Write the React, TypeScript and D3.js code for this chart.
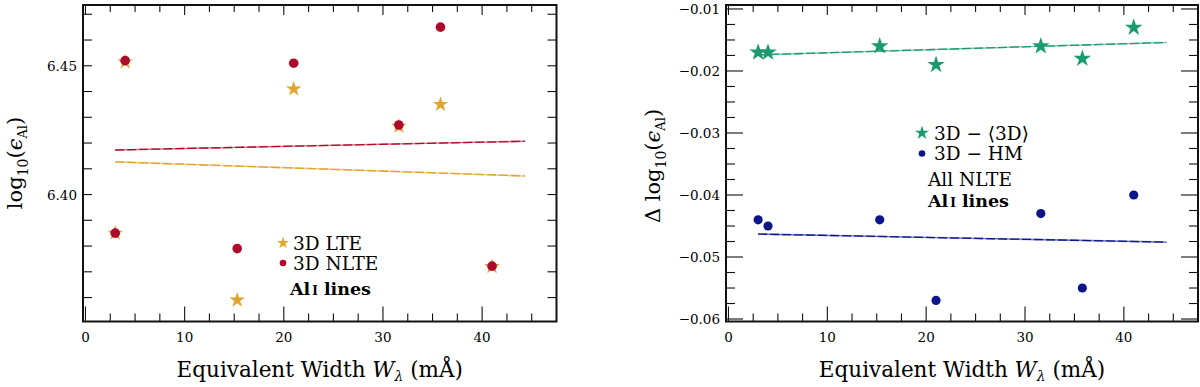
import React, { useEffect, useRef } from 'react';
import * as d3 from 'd3';

// equivalent widths of the Al I lines (mÅ)
const eqWidth = [3.0, 4.0, 15.3, 21.0, 31.6, 35.8, 41.0];

// left panel: absolute abundances
const lte3d = [6.385, 6.4515, 6.359, 6.441, 6.4265, 6.435, 6.372];
const nlte3d = [6.385, 6.452, 6.379, 6.451, 6.427, 6.465, 6.3722];

// right panel: abundance differences (all NLTE)
const diff3dMean = [-0.017, -0.017, -0.016, -0.019, -0.016, -0.018, -0.013];
const diff3dHM = [-0.044, -0.045, -0.044, -0.057, -0.043, -0.055, -0.040];

const fitX = [3.0, 44.3];
const fitLte = [6.4127, 6.4072];
const fitNlte = [6.4173, 6.4207];
const fitMean = [-0.0174, -0.0154];
const fitHM = [-0.0463, -0.0476];

const FONT = '"DejaVu Serif", "Liberation Serif", serif';
const GOLD = '#e2a42a';
const RED = '#ad0a2c';
const GREEN = '#1b9a6f';
const NAVY = '#0b168a';

const W = 1200;
const H = 387;

type Panel = {
  x0: number; x1: number; y0: number; y1: number;
  yDomain: [number, number];
  yMajor: number[]; yMinor: number[];
  yMajorLen: number; yMinorLen: number;
  yFmt: (v: number) => string;
};

const App = () => {
  const ref = useRef<SVGSVGElement>(null);

  useEffect(() => {
    const svg = d3.select(ref.current);
    svg.selectAll('*').remove();
    svg.append('rect').attr('width', W).attr('height', H).attr('fill', 'white');

    const xDomain: [number, number] = [-0.25, 47.5];
    const xMajor = d3.range(0, 41, 10);
    const xMinor = d3.range(0, 47.5, 2.5).filter(v => v % 10 !== 0);

    const drawFrame = (p: Panel) => {
      const x = d3.scaleLinear().domain(xDomain).range([p.x0, p.x1]);
      const y = d3.scaleLinear().domain(p.yDomain).range([p.y1, p.y0]);
      const g = svg.append('g');
      const tick = (x1: number, y1: number, x2: number, y2: number) =>
        g.append('line').attr('x1', x1).attr('y1', y1).attr('x2', x2).attr('y2', y2)
          .attr('stroke', '#111').attr('stroke-width', 1.1);

      xMajor.forEach(v => { tick(x(v), p.y1, x(v), p.y1 - 15); tick(x(v), p.y0, x(v), p.y0 + 10); });
      xMinor.forEach(v => { tick(x(v), p.y1, x(v), p.y1 - 8); tick(x(v), p.y0, x(v), p.y0 + 7); });
      p.yMajor.forEach(v => { tick(p.x0, y(v), p.x0 + p.yMajorLen, y(v)); tick(p.x1, y(v), p.x1 - p.yMajorLen, y(v)); });
      p.yMinor.forEach(v => { tick(p.x0, y(v), p.x0 + p.yMinorLen, y(v)); tick(p.x1, y(v), p.x1 - p.yMinorLen, y(v)); });

      g.append('rect').attr('x', p.x0).attr('y', p.y0)
        .attr('width', p.x1 - p.x0).attr('height', p.y1 - p.y0)
        .attr('fill', 'none').attr('stroke', '#111').attr('stroke-width', 2);

      g.selectAll('.xl').data(xMajor).enter().append('text')
        .attr('x', d => x(d)).attr('y', p.y1 + 20)
        .attr('text-anchor', 'middle').attr('font-family', FONT).attr('font-size', 13.5)
        .text(d => String(d));

      g.selectAll('.yl').data(p.yMajor.filter(v => p.yFmt(v) !== '')).enter().append('text')
        .attr('x', p.x0 - 6).attr('y', d => y(d) + 5)
        .attr('text-anchor', 'end').attr('font-family', FONT).attr('font-size', 13.5)
        .text(d => p.yFmt(d));

      const t = g.append('text').attr('x', (p.x0 + p.x1) / 2).attr('y', 377)
        .attr('text-anchor', 'middle').attr('font-family', FONT).attr('font-size', 21.5);
      t.append('tspan').text('Equivalent Width ');
      t.append('tspan').attr('font-style', 'italic').text('W');
      t.append('tspan').attr('font-size', 14).attr('dy', 4).attr('font-style', 'italic').text('λ');
      t.append('tspan').attr('dy', -4).text(' (mÅ)');
      return { x, y, g };
    };

    const yLabel = (cx: number, cy: number, prefix: string) => {
      const t = svg.append('text')
        .attr('transform', `translate(${cx},${cy}) rotate(-90)`)
        .attr('text-anchor', 'middle').attr('font-family', FONT).attr('font-size', 21);
      t.append('tspan').text(prefix + 'log');
      t.append('tspan').attr('font-size', 14).attr('dy', 6).text('10');
      t.append('tspan').attr('dy', -6).text('(');
      t.append('tspan').attr('font-style', 'italic').text('ϵ');
      t.append('tspan').attr('font-size', 13).attr('dy', 5).text('Al');
      t.append('tspan').attr('dy', -5).text(')');
    };

    const star = d3.symbol().type(d3.symbolStar);
    const drawStars = (g: any, x: any, y: any, vals: number[], color: string, size: number) => {
      g.selectAll(null).data(vals).enter().append('path')
        .attr('d', star.size(size)())
        .attr('transform', (d: number, i: number) => `translate(${x(eqWidth[i])},${y(d)})`)
        .attr('fill', color);
    };
    const drawDots = (g: any, x: any, y: any, vals: number[], color: string, r: number) => {
      g.selectAll(null).data(vals).enter().append('circle')
        .attr('cx', (d: number, i: number) => x(eqWidth[i])).attr('cy', (d: number) => y(d))
        .attr('r', r).attr('fill', color);
    };
    const drawFit = (g: any, x: any, y: any, ys: number[], color: string) => {
      const line = d3.line<number>().x((d, i) => x(fitX[i])).y(d => y(d));
      g.append('path').attr('d', line(ys)).attr('fill', 'none')
        .attr('stroke', color).attr('stroke-width', 1.6).attr('opacity', 0.55);
      g.append('path').attr('d', line(ys)).attr('fill', 'none')
        .attr('stroke', color).attr('stroke-width', 1.3).attr('stroke-dasharray', '9,3');
    };
    const legendText = (x: number, y: number, txt: string, size = 18.5) =>
      svg.append('text').attr('x', x).attr('y', y).attr('font-family', FONT)
        .attr('font-size', size).text(txt);
    const alLines = (x: number, y: number) => {
      const t = svg.append('text').attr('x', x).attr('y', y).attr('font-family', FONT)
        .attr('font-size', 17.5).attr('font-weight', 'bold');
      t.append('tspan').text('Al');
      t.append('tspan').attr('font-size', 12).attr('dx', 2).text('I');
      t.append('tspan').text(' lines');
    };

    // ---- left panel
    const L = drawFrame({
      x0: 83, x1: 556.5, y0: 5, y1: 321.5,
      yDomain: [6.3507, 6.4736],
      yMajor: d3.range(6.36, 6.4701, 0.01), yMinor: [],
      yMajorLen: 9, yMinorLen: 6,
      yFmt: v => (Math.abs(v - 6.40) < 1e-6 || Math.abs(v - 6.45) < 1e-6) ? v.toFixed(2) : '',
    });
    drawFit(L.g, L.x, L.y, fitNlte, RED);
    drawFit(L.g, L.x, L.y, fitLte, GOLD);
    drawStars(L.g, L.x, L.y, lte3d, GOLD, 75);
    drawDots(L.g, L.x, L.y, nlte3d, RED, 4.8);
    yLabel(22, 163, '');

    svg.append('path').attr('d', star.size(44)())
      .attr('transform', 'translate(283,243)').attr('fill', GOLD);
    legendText(293, 249.5, '3D LTE');
    svg.append('circle').attr('cx', 283).attr('cy', 263).attr('r', 3.3).attr('fill', RED);
    legendText(293, 269.5, '3D NLTE');
    alLines(290, 294.5);

    // ---- right panel
    const R = drawFrame({
      x0: 726, x1: 1198, y0: 5, y1: 321.5,
      yDomain: [-0.0604, -0.00936],
      yMajor: d3.range(-0.06, -0.0099, 0.01),
      yMinor: d3.range(-0.06, -0.0099, 0.0025).filter(v => Math.abs(Math.round(v * 100) - v * 100) > 1e-6),
      yMajorLen: 17, yMinorLen: 9,
      yFmt: v => '−' + Math.abs(v).toFixed(2),
    });
    drawFit(R.g, R.x, R.y, fitMean, GREEN);
    drawFit(R.g, R.x, R.y, fitHM, NAVY);
    drawStars(R.g, R.x, R.y, diff3dMean, GREEN, 95);
    drawDots(R.g, R.x, R.y, diff3dHM, NAVY, 4.6);
    yLabel(660, 166, 'Δ ');

    svg.append('path').attr('d', star.size(60)())
      .attr('transform', 'translate(922,133)').attr('fill', GREEN);
    legendText(934, 139.5, '3D − ⟨3D⟩');
    svg.append('circle').attr('cx', 922).attr('cy', 153.5).attr('r', 3.3).attr('fill', NAVY);
    legendText(934, 160, '3D − HM');
    legendText(928, 185.5, 'All NLTE');
    alLines(928, 206.5);
  }, []);

  return (
    <div style={{ position: 'absolute', left: 0, top: 0 }}>
      <svg ref={ref} width={W} height={H} viewBox={`0 0 ${W} ${H}`} style={{ display: 'block' }} />
    </div>
  );
};

export default App;
